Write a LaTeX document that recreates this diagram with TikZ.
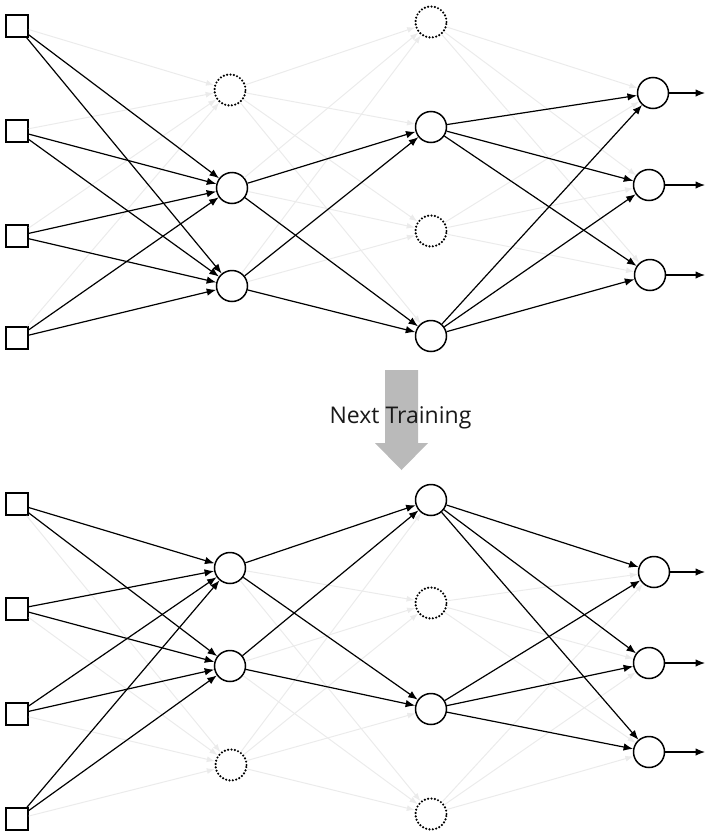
\documentclass[tikz,border=0pt]{standalone}
\usepackage{fontspec}
\setmainfont{Open Sans}
\usetikzlibrary{arrows.meta}
\begin{document}
\begin{tikzpicture}[x=1pt,y=-1pt,
  inp/.style={draw, line width=1.5pt, rectangle, minimum size=22pt, inner sep=0pt, fill=white},
  neu/.style={draw, line width=1.5pt, circle, minimum size=31pt, inner sep=0pt, fill=white},
  drop/.style={draw=black, line width=2.4pt, circle, minimum size=31pt, inner sep=0pt,
               dash pattern=on 0pt off 3.4pt, line cap=round},
  act/.style={line width=1.2pt, -{Latex[length=9.5pt,width=7.5pt]}},
  faint/.style={line width=1pt, draw=black!8, -{Latex[length=8pt,width=6pt,fill=black!8]}},
  lbl/.style={font=\fontsize{23}{26}\selectfont, text=black!90, inner sep=0pt}
]
\useasboundingbox (0,0) rectangle (705,833);

% ---------- top network ----------
\node[inp] (tI1) at (17,26) {};
\node[inp] (tI2) at (17,131) {};
\node[inp] (tI3) at (17,236) {};
\node[inp] (tI4) at (17,338) {};
\node[drop] (tH1d) at (230,90) {};
\node[neu] (tH1a) at (232,188) {};
\node[neu] (tH1b) at (232,286) {};
\node[drop] (tH2da) at (431,22) {};
\node[neu] (tH2a) at (431,127) {};
\node[drop] (tH2db) at (431,231) {};
\node[neu] (tH2b) at (431,336) {};
\node[neu] (tO1) at (653,93) {};
\node[neu] (tO2) at (649,185) {};
\node[neu] (tO3) at (650,275) {};
\coordinate (tE1) at (705,93);
\coordinate (tE2) at (705,185);
\coordinate (tE3) at (705,275);

% faint (dropped) connections
\foreach \i in {tI1,tI2,tI3,tI4} \draw[faint] (\i) -- (tH1d);
\foreach \h in {tH2da,tH2a,tH2db,tH2b} \draw[faint] (tH1d) -- (\h);
\foreach \a in {tH1a,tH1b} \foreach \h in {tH2da,tH2db} \draw[faint] (\a) -- (\h);
\foreach \d in {tH2da,tH2db} \foreach \o in {tO1,tO2,tO3} \draw[faint] (\d) -- (\o);
% active connections
\foreach \i in {tI1,tI2,tI3,tI4} \foreach \h in {tH1a,tH1b} \draw[act] (\i) -- (\h);
\foreach \a in {tH1a,tH1b} \foreach \h in {tH2a,tH2b} \draw[act] (\a) -- (\h);
\foreach \a in {tH2a,tH2b} \foreach \o in {tO1,tO2,tO3} \draw[act] (\a) -- (\o);
\foreach \k in {1,2,3} \draw[act] (tO\k) -- (tE\k);

% ---------- arrow and label ----------
\fill[black!27] (385,370) -- (418,370) -- (418,443) -- (428,443) -- (401.5,470)
  -- (375,443) -- (385,443) -- cycle;
\node[lbl, anchor=base] (label) at (400.5,423) {Next Training};

% ---------- bottom network ----------
\node[inp] (bI1) at (17,504) {};
\node[inp] (bI2) at (17,609) {};
\node[inp] (bI3) at (17,714) {};
\node[inp] (bI4) at (17,819) {};
\node[neu] (bH1a) at (230,568) {};
\node[neu] (bH1b) at (230,666) {};
\node[drop] (bH1d) at (231,765) {};
\node[neu] (bH2a) at (431,500) {};
\node[drop] (bH2da) at (431,603) {};
\node[neu] (bH2b) at (431,709) {};
\node[drop] (bH2db) at (431,814) {};
\node[neu] (bO1) at (654,572) {};
\node[neu] (bO2) at (649,663) {};
\node[neu] (bO3) at (649,752) {};
\coordinate (bE1) at (705,572);
\coordinate (bE2) at (705,663);
\coordinate (bE3) at (705,752);

\foreach \i in {bI1,bI2,bI3,bI4} \draw[faint] (\i) -- (bH1d);
\foreach \h in {bH2da,bH2a,bH2db,bH2b} \draw[faint] (bH1d) -- (\h);
\foreach \a in {bH1a,bH1b} \foreach \h in {bH2da,bH2db} \draw[faint] (\a) -- (\h);
\foreach \d in {bH2da,bH2db} \foreach \o in {bO1,bO2,bO3} \draw[faint] (\d) -- (\o);
\foreach \i in {bI1,bI2,bI3,bI4} \foreach \h in {bH1a,bH1b} \draw[act] (\i) -- (\h);
\foreach \a in {bH1a,bH1b} \foreach \h in {bH2a,bH2b} \draw[act] (\a) -- (\h);
\foreach \a in {bH2a,bH2b} \foreach \o in {bO1,bO2,bO3} \draw[act] (\a) -- (\o);
\foreach \k in {1,2,3} \draw[act] (bO\k) -- (bE\k);
\end{tikzpicture}
\end{document}
